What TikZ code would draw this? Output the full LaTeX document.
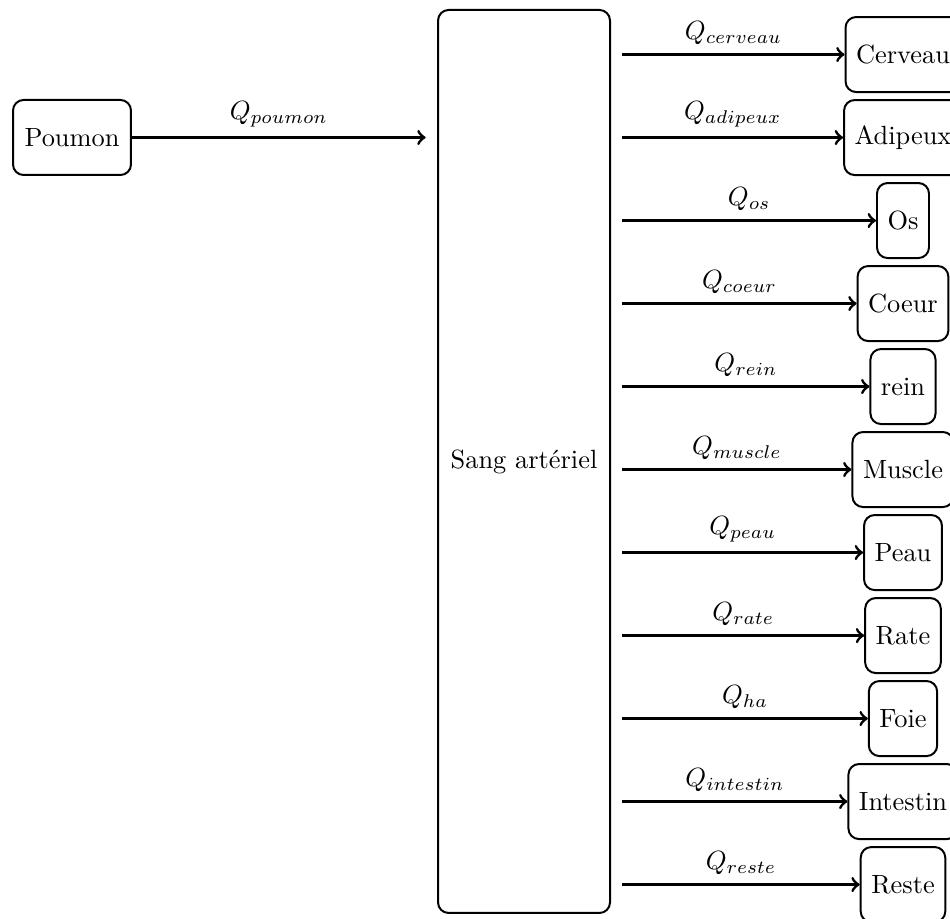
\documentclass[tikz,border=0pt]{standalone}
\usepackage{amsmath}
\usepackage{tikz}
\usetikzlibrary{positioning,calc}

\begin{document}
\begin{tikzpicture}[
	% boîtes des compartiments
	organe/.style={
		draw=black,
		line width=0.75pt,
		rounded corners=4pt,
		minimum height=1cm,
		inner xsep=4pt,
		anchor=center
	},
	% flux sanguin
	flux/.style={
		->,
		line width=1.1pt
	}
	]
	\useasboundingbox (0,0) rectangle (12.667,-12.253);
	
	% Sang artériel (grand bloc central)
	\node[organe, minimum width=2.293cm, minimum height=12.04cm, outer sep=4.7pt] (sang) at (6.987,-6.153) {Sang artériel};
	
	% Poumon a gauche
	\node[organe, minimum width=1.573cm] (poumon) at (0.96,-1.833) {Poumon};
	\draw[flux] (poumon) -- (sang.west |- poumon) node[midway, above] {$Q_{poumon}$};
	
	% les organes a droite, un par ligne
	\foreach \nom/\texte/\flux [count=\i from 0] in {
		cerveau/Cerveau/cerveau,
		adipeux/Adipeux/adipeux,
		os/Os/os,
		coeur/Coeur/coeur,
		rein/rein/rein,
		muscle/Muscle/muscle,
		peau/Peau/peau,
		rate/Rate/rate,
		foie/Foie/ha,
		intestin/Intestin/intestin,
		reste/Reste/reste}
	{
		\node[organe] (\nom) at (12.04,{-0.727-1.1067*\i}) {\texte};
		\draw[flux] (sang.east |- \nom) -- (\nom) node[midway, above] {$Q_{\flux}$};
	}
\end{tikzpicture}
\end{document}
